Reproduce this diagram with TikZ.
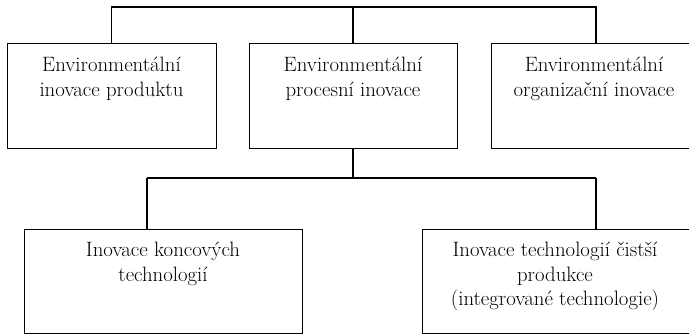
\documentclass[tikz,border=0pt]{standalone}
\usepackage{tikz}
\usetikzlibrary{positioning}

\begin{document}
\begin{tikzpicture}[
  x=0.75pt, y=-0.75pt,
  box/.style={draw, line width=0.7pt, minimum height=78.75pt, inner sep=0pt},
  boxtext/.style={anchor=north, align=center, inner sep=0pt, font=\fontsize{15.6}{18.6}\selectfont},
  link/.style={line width=0.8pt}
]
\path[use as bounding box] (0,0) rectangle (689,334);
\begin{scope}
\clip (0,0) rectangle (689,334);
% upper row
\node[box, minimum width=156.75pt] (product) at (111.5,95.5) {};
\node[box, minimum width=156pt] (process) at (353,95.5) {};
\node[box, minimum width=157.5pt] (organiz) at (596,95.5) {};
% lower row
\node[box, minimum width=208.5pt, minimum height=78pt] (endpipe) at (163,281) {};
\node[box, minimum width=204pt, minimum height=78pt] (cleaner) at (558,281) {};
\end{scope}
% texts
\node[boxtext] (productT) at ([yshift=-10.5pt]product.north) {Environmentální\\inovace produktu};
\node[boxtext] (processT) at ([yshift=-10.5pt]process.north) {Environmentální\\procesní inovace};
\node[boxtext] (organizT) at ([xshift=-1.5pt, yshift=-10.5pt]organiz.north) {Environmentální\\organizační inovace};
\node[boxtext] (endpipeT) at ([yshift=-9.75pt]endpipe.north) {Inovace koncových\\technologií};
\node[boxtext] (cleanerT) at ([xshift=-2.25pt, yshift=-9.75pt]cleaner.north) {Inovace technologií čistší\\produkce\\(integrované technologie)};
% connectors
\coordinate (topbus) at (353,7);
\coordinate (dropL) at (147,178);
\coordinate (dropR) at (596,178);
\draw[link] (product.north) |- (topbus) -| (organiz.north);
\draw[link] (process.north) -- (topbus);
\draw[link] (process.south) -- (process.south |- dropL);
\draw[link] (dropL) -- (dropR);
\draw[link] (dropL) -- (dropL |- endpipe.north);
\draw[link] (dropR) -- (dropR |- cleaner.north);
\end{tikzpicture}
\end{document}
